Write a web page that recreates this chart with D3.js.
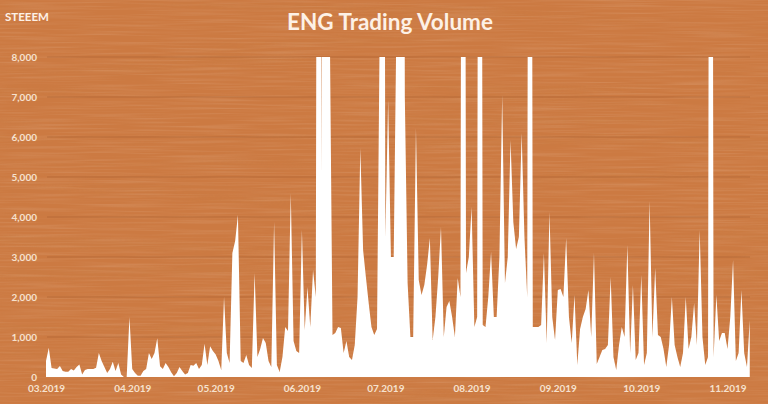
<!DOCTYPE html>
<html>
<head>
<meta charset="utf-8">
<script src="https://cdn.jsdelivr.net/npm/d3@7"></script>
<style>
  html, body { margin: 0; padding: 0; background: #c9773f; }
  svg { display: block; }
  text { font-family: Lato, "Open Sans", sans-serif; font-weight: 700; }
</style>
</head>
<body>
<div id="chart"></div>
<script>
// ---- data ----
const title = "ENG Trading Volume";
const unitLabel = "STEEEM";
const startDate = "2019-03-01";           // first daily value
const tickMonths = ["2019-03-01","2019-04-01","2019-05-01","2019-06-01","2019-07-01","2019-08-01","2019-09-01","2019-10-01","2019-11-01"];
const yTicks = [0, 1000, 2000, 3000, 4000, 5000, 6000, 7000, 8000];
// daily trading volume (values above 8,000 are cut off by the axis)
const volume = [
  400, 730, 225, 210, 200, 275, 150, 130, 130, 200,
  160, 250, 310, 60, 175, 200, 200, 200, 230, 600,
  400, 250, 100, 200, 380, 150, 350, 60, 0, 0,
  1500, 200, 100, 30, 30, 150, 200, 600, 450, 600,
  970, 270, 200, 350, 250, 120, 20, 100, 250, 150,
  60, 100, 300, 280, 350, 200, 300, 830, 300, 770,
  650, 560, 400, 175, 2000, 600, 350, 3100, 3400, 4050,
  400, 350, 550, 300, 225, 2600, 500, 700, 975, 850,
  400, 250, 3880, 300, 125, 500, 1250, 1150, 4600, 900,
  650, 600, 3680, 1175, 2250, 1250, 2675, 2000, 40000, 5000,
  40000, 40000, 9000, 1050, 1100, 1250, 1225, 600, 900, 500,
  425, 800, 2000, 5725, 3175, 2500, 1850, 1250, 1050, 1200,
  9000, 40000, 3500, 6925, 3000, 3000, 9000, 40000, 40000, 7000,
  2350, 1000, 1000, 6225, 2425, 2050, 2300, 2800, 3475, 925,
  1500, 2500, 3750, 1000, 1750, 1900, 1500, 1000, 2475, 2000,
  40000, 2600, 3000, 4250, 1250, 1500, 40000, 1300, 1250, 2000,
  3125, 1500, 1500, 3000, 7050, 2350, 3000, 5925, 3875, 3200,
  3500, 6100, 3500, 2000, 40000, 1250, 1250, 1250, 1300, 3100,
  850, 4125, 1500, 925, 2175, 2200, 2000, 3475, 1500, 850,
  2050, 300, 1200, 1500, 1700, 2175, 1000, 3100, 325, 500,
  675, 700, 800, 2500, 500, 175, 800, 1250, 1000, 3300,
  600, 2300, 425, 600, 2550, 300, 600, 4400, 1000, 2725,
  1050, 1000, 700, 250, 800, 2000, 800, 500, 250, 600,
  2000, 700, 1000, 1850, 800, 3675, 1000, 300, 500, 40000,
  500, 2050, 900, 1100, 1100, 700, 1500, 2925, 400, 600,
  2175, 600, 250, 1425
];

// ---- chart ----
const W = 768, H = 404;
const parse = d3.utcParse("%Y-%m-%d");
const start = parse(startDate);
const series = volume.map((v, i) => ({ date: d3.utcDay.offset(start, i), value: v }));
const ticks = tickMonths.map(parse);

const x = d3.scaleUtc().domain([ticks[0], ticks[ticks.length - 1]]).range([46, 727.5]);
const y = d3.scaleLinear().domain([0, 8000]).range([377, 57]);

const svg = d3.select("#chart").append("svg").attr("width", W).attr("height", H);
const defs = svg.append("defs");

// wood-like texture (fine horizontal grain)
const f1 = defs.append("filter").attr("id", "grain").attr("x", 0).attr("y", 0).attr("width", "100%").attr("height", "100%");
f1.append("feTurbulence").attr("type", "fractalNoise").attr("baseFrequency", "0.012 0.5").attr("numOctaves", 2).attr("seed", 7);
f1.append("feColorMatrix").attr("type", "matrix")
  .attr("values", "0 0 0 0 1  0 0 0 0 0.9  0 0 0 0 0.8  1.2 0 0 0 -0.5");
const f2 = defs.append("filter").attr("id", "grain2").attr("x", 0).attr("y", 0).attr("width", "100%").attr("height", "100%");
f2.append("feTurbulence").attr("type", "fractalNoise").attr("baseFrequency", "0.003 0.06").attr("numOctaves", 2).attr("seed", 3);
f2.append("feColorMatrix").attr("type", "matrix")
  .attr("values", "0 0 0 0 0.55  0 0 0 0 0.25  0 0 0 0 0.08  -1.2 0 0 0 0.65");

svg.append("rect").attr("width", W).attr("height", H).attr("fill", "#cc7a42");
svg.append("rect").attr("width", W).attr("height", H).attr("filter", "url(#grain2)").attr("opacity", 0.22);
svg.append("rect").attr("width", W).attr("height", H).attr("filter", "url(#grain)").attr("opacity", 0.22);

// gridlines
svg.append("g").selectAll("line").data(yTicks.filter(t => t > 0)).join("line")
  .attr("x1", 47).attr("x2", 750)
  .attr("y1", d => y(d)).attr("y2", d => y(d))
  .attr("stroke", "#8a4a20").attr("stroke-opacity", 0.3).attr("stroke-width", 1);

// clip to plot area
defs.append("clipPath").attr("id", "plot").append("rect")
  .attr("x", 40).attr("y", y(8000)).attr("width", 720).attr("height", y(0) - y(8000));

const area = d3.area().x(d => x(d.date)).y0(y(0)).y1(d => y(d.value));
svg.append("path").datum(series)
  .attr("clip-path", "url(#plot)")
  .attr("d", area).attr("fill", "#ffffff");

// y axis labels
const yAxis = d3.axisLeft(y).tickValues(yTicks).tickFormat(d3.format(",")).tickSize(0).tickPadding(0);
const gy = svg.append("g").attr("transform", "translate(37,0)").call(yAxis);
gy.select(".domain").remove();
gy.selectAll("text").attr("fill", "#f6e2cf").attr("font-size", 10).attr("font-family", "Lato, sans-serif").attr("font-weight", 700);

// x axis labels
const xAxis = d3.axisBottom(x).tickValues(ticks).tickFormat(d3.utcFormat("%m.%Y")).tickSize(0).tickPadding(0);
const gx = svg.append("g").attr("transform", "translate(0,385)").call(xAxis);
gx.select(".domain").remove();
gx.selectAll("text").attr("fill", "#f6e2cf").attr("font-size", 10).attr("font-family", "Lato, sans-serif").attr("font-weight", 700);

// titles
svg.append("text").attr("x", 390).attr("y", 30).attr("text-anchor", "middle")
  .attr("font-size", 22.5).attr("fill", "#fdf1e6").text(title);
svg.append("text").attr("x", 5).attr("y", 21)
  .attr("font-size", 11.5).attr("fill", "#fdf1e6").text(unitLabel);
</script>
</body>
</html>
